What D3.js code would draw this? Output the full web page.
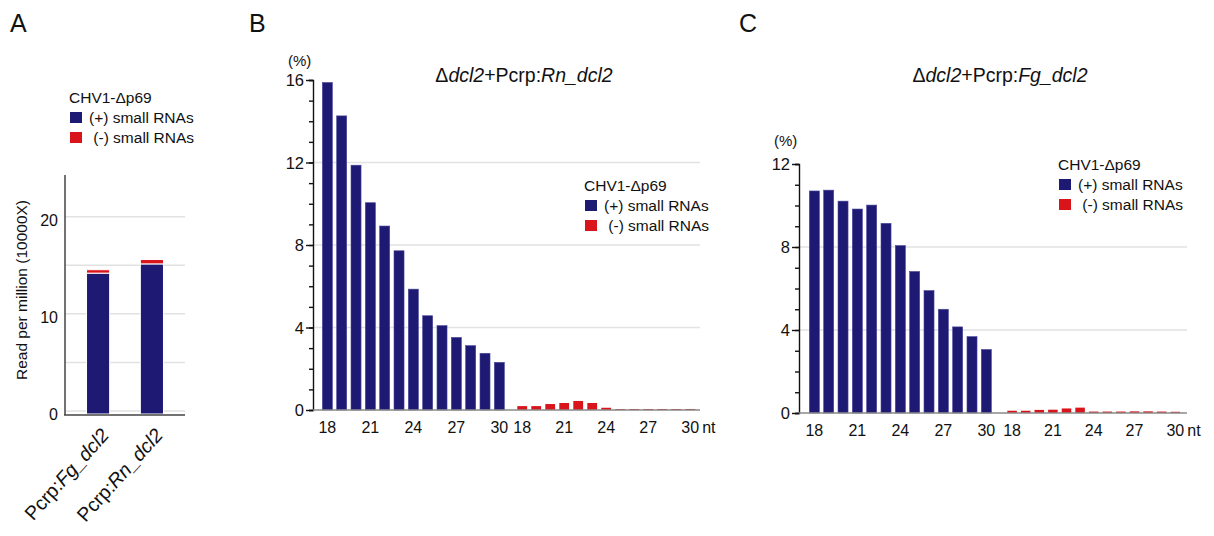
<!doctype html>
<html lang="en">
<head>
<meta charset="utf-8">
<script src="https://d3js.org/d3.v7.min.js"></script>
<style>
  body { margin: 0; background: #fff; }
  svg text { font-family: "Liberation Sans", Arial, Helvetica, sans-serif; fill: #111; }
  .grid line { stroke: #e2e2e2; stroke-width: 1.5px; }
  .yax path, .yax line { stroke: #111; stroke-width: 1.4px; }
  .xbase { stroke: #8a8a8a; stroke-width: 1.5px; }
</style>
</head>
<body>
<svg width="1214" height="536"></svg>
<script>
// ---- data ----
const lengths = [18, 19, 20, 21, 22, 23, 24, 25, 26, 27, 28, 29, 30];
const xTickLabels = [18, 21, 24, 27, 30];

// panel A : total reads (x10000 rpm)
const strainsA = ["Fg", "Rn"];
const plusTotalA = [14.5, 15.45];
const minusTotalA = [0.35, 0.45];
const yTicksA = [0, 10, 20];
const yGridA = [0, 5, 10, 15, 20];

// panel B : Rn_dcl2 size distribution (%)
const rnPlus = [15.88, 14.26, 11.87, 10.05, 8.92, 7.72, 5.86, 4.57, 4.09, 3.52, 3.12, 2.75, 2.31];
const rnMinus = [0.16, 0.16, 0.26, 0.31, 0.41, 0.31, 0.08, 0.02, 0.02, 0.02, 0.02, 0.02, 0.02];

// panel C : Fg_dcl2 size distribution (%)
const fgPlus = [10.70, 10.74, 10.21, 9.83, 10.02, 9.14, 8.07, 6.82, 5.90, 5.00, 4.15, 3.68, 3.06];
const fgMinus = [0.08, 0.08, 0.12, 0.13, 0.19, 0.23, 0.04, 0.04, 0.04, 0.05, 0.05, 0.04, 0.03];

const legendTitle = "CHV1-\u0394p69";
const legendItems = ["(+) small RNAs", " (-) small RNAs"];

const BLUE = "#1e1a73", RED = "#d9141b";

const svg = d3.select("svg");

// panel letters
[["A", 10], ["B", 249], ["C", 739]].forEach(([t, x]) => {
  svg.append("text").attr("x", x).attr("y", 32).style("font-size", "25px").text(t);
});

function legend(g, x, y) {
  g.append("text").attr("x", x).attr("y", y).style("font-size", "15.5px").text(legendTitle);
  legendItems.forEach((t, i) => {
    g.append("rect").attr("x", x + 1).attr("y", y + 9 + i * 20)
      .attr("width", 12).attr("height", 11).attr("fill", i ? RED : BLUE);
    g.append("text").attr("x", x + 20).attr("y", y + 20 + i * 20)
      .style("font-size", "15.5px").style("white-space", "pre").text(t);
  });
}

// ---------- panel A ----------
{
  const g = svg.append("g");
  const y = d3.scaleLinear().domain([0, 24.6]).range([414, 175]);
  const x = d3.scaleBand().domain(strainsA).range([65, 185]).paddingInner(0.57).paddingOuter(0.4);

  g.append("g").attr("class", "grid").selectAll("line").data(yGridA).join("line")
    .attr("x1", 65).attr("x2", 185).attr("y1", d => y(d) - 3).attr("y2", d => y(d) - 3);

  g.selectAll("text.tk").data(yTicksA).join("text").attr("class", "tk")
    .attr("x", 58).attr("y", d => y(d) + 6).attr("text-anchor", "end")
    .style("font-size", "16px").text(d => d);

  const stackRows = strainsA.map((s, i) => ({ s, plus: plusTotalA[i], minus: minusTotalA[i] }));
  const stacked = d3.stack().keys(["plus", "minus"])(stackRows);
  g.selectAll("g.ser").data(stacked).join("g")
    .attr("fill", d => d.key === "plus" ? BLUE : RED)
    .selectAll("rect").data(d => d).join("rect")
    .attr("x", d => x(d.data.s)).attr("width", x.bandwidth())
    .attr("y", d => y(d[1])).attr("height", d => y(d[0]) - y(d[1]))
    .attr("stroke", "#fff").attr("stroke-width", 1);

  g.append("line").attr("x1", 65).attr("x2", 65).attr("y1", 175).attr("y2", 415)
    .attr("stroke", "#444").attr("stroke-width", 1.5);
  g.append("line").attr("x1", 64).attr("x2", 185).attr("y1", 415).attr("y2", 415)
    .attr("stroke", "#444").attr("stroke-width", 1.5);

  g.append("text").attr("transform", "translate(27,290) rotate(-90)")
    .attr("text-anchor", "middle").style("font-size", "15.5px").text("Read per million (10000X)");

  strainsA.forEach(s => {
    const t = g.append("text")
      .attr("transform", `translate(${x(s) + x.bandwidth() / 2 + 12},${436}) rotate(-48)`)
      .attr("text-anchor", "end").style("font-size", "19.5px");
    t.append("tspan").text("Pcrp:");
    t.append("tspan").style("font-style", "italic").text(s + "_dcl2");
  });

  legend(g, 69, 103);
}

// ---------- panels B and C ----------
function distPanel(cfg) {
  const g = svg.append("g");
  const y = d3.scaleLinear().domain([0, cfg.ymax]).range([cfg.y0, cfg.y1]);
  const xp = d3.scaleBand().domain(lengths).range(cfg.plusRange).paddingInner(0.3).paddingOuter(0.15);
  const xm = d3.scaleBand().domain(lengths).range(cfg.minusRange).paddingInner(0.3).paddingOuter(0.15);
  const major = d3.range(0, cfg.ymax + 1, 4);

  g.append("g").attr("class", "grid").selectAll("line").data(cfg.grid).join("line")
    .attr("x1", cfg.ax).attr("x2", cfg.xend).attr("y1", d => y(d)).attr("y2", d => y(d));

  // minor ticks
  g.append("g").attr("class", "yax").attr("transform", `translate(${cfg.ax},0)`)
    .call(d3.axisLeft(y).tickValues(d3.range(0, cfg.ymax + 1, 1)).tickSize(4).tickFormat(""));
  // major ticks
  g.append("g").attr("class", "yax").attr("transform", `translate(${cfg.ax},0)`)
    .call(d3.axisLeft(y).tickValues(major).tickSize(7).tickSizeOuter(0).tickFormat(""))
    .call(a => a.select(".domain").remove());
  g.selectAll(null).data(major).join("text")
    .attr("x", cfg.ax - 9).attr("y", d => y(d) + 6).attr("text-anchor", "end")
    .style("font-size", "16.5px").text(d => d);

  g.append("g").selectAll("rect").data(lengths).join("rect")
    .attr("x", d => xp(d)).attr("width", xp.bandwidth())
    .attr("y", (d, i) => y(cfg.plus[i])).attr("height", (d, i) => y(0) - y(cfg.plus[i]))
    .attr("fill", BLUE).attr("stroke", "#4a479a").attr("stroke-width", 0.6);
  g.append("g").selectAll("rect").data(lengths).join("rect")
    .attr("x", d => xm(d)).attr("width", xm.bandwidth())
    .attr("y", (d, i) => y(cfg.minus[i]) - 0.6).attr("height", (d, i) => y(0) - y(cfg.minus[i]) + 0.6)
    .attr("fill", RED);

  g.append("line").attr("class", "xbase").attr("x1", cfg.ax).attr("x2", cfg.xend)
    .attr("y1", y(0)).attr("y2", y(0));

  [xp, xm].forEach(xs => {
    g.selectAll(null).data(xTickLabels).join("text")
      .attr("x", d => xs(d) + xs.bandwidth() / 2).attr("y", y(0) + 23)
      .attr("text-anchor", "middle").style("font-size", "16px").text(d => d);
  });
  g.append("text").attr("x", xm(30) + xm.bandwidth() / 2 + 12).attr("y", y(0) + 23)
    .style("font-size", "16px").text("nt");

  g.append("text").attr("x", cfg.ax - 25).attr("y", cfg.pctY).style("font-size", "15px").text("(%)");

  const t = g.append("text").attr("x", cfg.titleX).attr("y", 82)
    .attr("text-anchor", "middle").style("font-size", "19.5px");
  t.append("tspan").text("\u0394");
  t.append("tspan").style("font-style", "italic").text("dcl2");
  t.append("tspan").text("+Pcrp:");
  t.append("tspan").style("font-style", "italic").text(cfg.strain + "_dcl2");

  legend(g, cfg.legX, cfg.legY);
}

distPanel({
  strain: "Rn", plus: rnPlus, minus: rnMinus, ymax: 16, y0: 410, y1: 80,
  ax: 313, xend: 700, plusRange: [320.2, 506.5], minusRange: [515.2, 697.2],
  grid: [4, 8, 12], pctY: 66, titleX: 524, legX: 584, legY: 191
});
distPanel({
  strain: "Fg", plus: fgPlus, minus: fgMinus, ymax: 12, y0: 413, y1: 164,
  ax: 799, xend: 1187, plusRange: [807.2, 993.5], minusRange: [1005.3, 1182.1],
  grid: [4, 8], pctY: 146, titleX: 1000, legX: 1058, legY: 170
});
</script>
</body>
</html>
